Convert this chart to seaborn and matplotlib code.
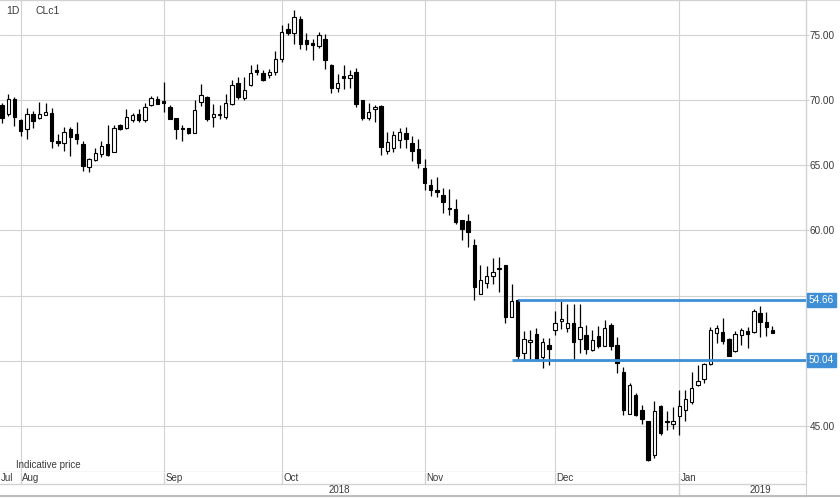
import numpy as np
import pandas as pd
import matplotlib
matplotlib.use('Agg')
import matplotlib.pyplot as plt
from matplotlib.lines import Line2D
import seaborn as sns

# daily OHLC, CLc1, 27 Jul 2018 - 23 Jan 2019
opens = [69.62, 68.92, 70.08, 68.46, 67.77, 68.97, 68.62, 68.87, 69.05, 66.85,
         66.74, 67.77, 67.38, 66.62, 64.87, 65.41, 65.90, 66.62, 66.05, 68.10,
         67.90, 68.49, 68.92, 68.49, 69.62, 70.08, 69.92, 69.51, 68.62, 67.87,
         67.85, 67.51, 69.90, 70.26, 68.74, 68.87, 68.74, 69.69, 71.36, 70.18,
         71.15, 72.33, 72.08, 71.92, 72.18, 73.15, 75.46, 75.15, 76.23, 74.67,
         74.41, 74.18, 74.69, 72.69, 70.95, 71.85, 71.72, 72.15, 70.00, 68.62,
         69.36, 69.56, 66.10, 66.36, 66.92, 67.51, 66.69, 66.28, 64.82, 63.46,
         63.08, 62.69, 61.69, 61.62, 60.79, 60.72, 58.85, 55.15, 55.97, 56.49,
         57.00, 57.38, 53.33, 54.64, 50.59, 51.46, 52.08, 50.28, 51.23, 52.38,
         53.05, 52.51, 52.90, 51.67, 51.95, 50.79, 51.87, 51.15, 52.77, 51.21,
         49.13, 45.92, 47.38, 46.23, 45.38, 42.77, 46.49, 45.36, 45.13, 45.72,
         46.23, 46.79, 48.15, 48.59, 49.77, 52.13, 52.21, 51.67, 50.72, 51.95,
         52.31, 52.18, 53.67, 52.95, 52.38]
highs = [69.77, 70.46, 70.26, 68.54, 69.41, 69.18, 69.90, 69.82, 69.44, 67.38,
         67.95, 67.95, 68.36, 66.87, 65.54, 66.36, 66.87, 68.08, 68.10, 68.21,
         69.36, 69.05, 69.31, 69.77, 70.33, 70.33, 71.41, 69.62, 68.62, 68.08,
         67.90, 70.03, 71.28, 70.33, 69.74, 69.62, 70.46, 71.54, 71.82, 71.82,
         72.74, 72.77, 72.33, 72.38, 73.79, 75.77, 75.92, 76.92, 76.49, 75.21,
         74.69, 75.28, 75.08, 72.77, 72.00, 72.69, 72.33, 72.46, 70.00, 69.77,
         69.64, 69.67, 67.56, 67.62, 67.85, 67.95, 67.26, 67.00, 65.46, 63.92,
         64.13, 63.28, 63.15, 62.38, 60.79, 61.23, 59.31, 57.38, 57.26, 57.90,
         57.97, 57.38, 55.85, 54.74, 52.26, 52.38, 52.51, 51.74, 51.74, 53.79,
         54.56, 54.38, 54.36, 54.31, 52.72, 52.38, 52.64, 53.15, 52.90, 51.82,
         49.51, 48.28, 47.51, 46.62, 45.38, 46.87, 46.62, 46.10, 46.44, 47.77,
         47.77, 49.13, 49.69, 49.82, 52.59, 52.77, 53.28, 51.74, 52.26, 52.51,
         52.56, 53.97, 54.23, 53.72, 52.64]
lows = [68.28, 68.79, 68.03, 67.26, 67.00, 67.90, 68.59, 68.87, 66.36, 66.49,
        66.10, 65.72, 66.62, 64.56, 64.49, 65.33, 65.67, 65.72, 66.03, 67.72,
        67.82, 68.33, 68.33, 68.33, 69.56, 69.69, 69.10, 68.54, 67.05, 66.87,
        67.41, 67.51, 69.56, 68.41, 67.97, 68.59, 68.59, 69.62, 70.08, 70.03,
        71.10, 71.92, 71.49, 71.74, 71.92, 72.97, 75.00, 74.31, 73.92, 73.87,
        73.10, 74.03, 72.44, 70.54, 70.64, 70.85, 70.97, 69.51, 68.49, 68.49,
        68.33, 65.82, 65.90, 66.03, 66.31, 66.36, 65.33, 64.82, 63.10, 62.64,
        62.59, 61.36, 61.18, 60.46, 59.26, 58.74, 54.69, 55.08, 55.56, 55.85,
        55.26, 52.85, 53.33, 50.08, 50.08, 50.08, 50.08, 49.44, 49.67, 52.00,
        52.44, 52.18, 50.08, 50.59, 50.54, 50.72, 50.97, 51.10, 50.85, 49.05,
        45.85, 45.92, 45.72, 45.15, 42.31, 42.51, 44.31, 44.69, 44.74, 44.31,
        45.33, 46.69, 48.08, 48.28, 49.69, 51.36, 51.31, 50.33, 50.64, 51.23,
        50.97, 52.13, 51.82, 51.87, 52.13]
closes = [68.67, 70.13, 68.74, 67.64, 68.97, 68.41, 68.97, 69.13, 66.87, 66.69,
          67.59, 67.21, 67.00, 64.95, 65.46, 65.92, 66.49, 65.79, 67.85, 67.77,
          68.69, 68.87, 68.49, 69.51, 70.18, 69.74, 69.82, 68.59, 67.77, 67.77,
          67.46, 69.23, 70.38, 68.59, 68.97, 68.92, 69.82, 71.15, 70.28, 70.77,
          72.08, 72.18, 71.56, 72.18, 73.21, 75.28, 75.15, 76.44, 74.31, 74.36,
          74.28, 75.00, 73.10, 70.95, 71.36, 71.72, 71.92, 69.69, 68.67, 69.13,
          69.41, 66.41, 66.82, 67.31, 67.59, 67.05, 66.10, 65.21, 63.67, 63.10,
          62.95, 62.18, 61.64, 60.64, 60.08, 59.90, 55.67, 56.23, 56.49, 56.82,
          57.15, 53.33, 54.56, 50.33, 51.62, 51.51, 50.15, 51.41, 50.90, 52.90,
          53.21, 52.85, 51.44, 52.56, 50.92, 51.56, 51.10, 52.51, 51.15, 49.82,
          46.23, 48.10, 45.85, 45.51, 42.38, 46.13, 44.44, 45.26, 45.38, 46.49,
          47.05, 47.90, 48.46, 49.77, 52.33, 52.51, 51.49, 50.38, 52.08, 52.33,
          52.05, 53.79, 52.97, 52.59, 52.13]

holidays = ['2018-09-03', '2018-11-22', '2018-12-25', '2019-01-01']
dates = pd.bdate_range('2018-07-27', '2019-01-23').drop(pd.to_datetime(holidays))

price_ticks = [45, 50, 55, 60, 65, 70, 75]
levels = [54.66, 50.04]
level_start = ['2018-11-23', '2018-11-21']

df = pd.DataFrame({'date': dates, 'open': opens, 'high': highs,
                   'low': lows, 'close': closes})
df['i'] = np.arange(len(df))
df['up'] = df['close'] >= df['open']

sns.set_style('white')
plt.rcParams['font.family'] = ['Liberation Sans', 'DejaVu Sans']

W, H = 840, 498
fig = plt.figure(figsize=(W / 100, H / 100), dpi=100)
plot_bottom = 471.7
ax = fig.add_axes([0, 1 - plot_bottom / H, 805.7 / W, plot_bottom / H])

grid_c = '#d2d2d2'
text_c = '#3a3a3a'
blue = '#3f8fd6'

# month starts from the trading days
month_first = df.groupby(df['date'].dt.to_period('M'))['i'].min()
month_idx = month_first.values

xmin, xmax = -0.33, 129.35
ax.set_xlim(xmin, xmax)
ax.set_ylim(41.46, 77.71)

ax.set_xticks(month_idx[1:])
ax.set_xticklabels([])
ax.set_yticks(price_ticks)
ax.yaxis.tick_right()


def price_fmt(v, pos):
    # labels sitting under the level badges are hidden, as on the original
    if any(abs(v - lvl) < 0.8 for lvl in levels):
        return ''
    return f'{v:.2f}'


ax.yaxis.set_major_formatter(matplotlib.ticker.FuncFormatter(price_fmt))
ax.tick_params(axis='y', length=2, width=0.8, color=grid_c, pad=1,
               labelsize=7.2, labelcolor=text_c)
ax.tick_params(axis='x', length=0)
ax.grid(True, color=grid_c, lw=0.8)
ax.set_axisbelow(True)
ax.spines['left'].set_visible(False)
for s in ['top', 'right', 'bottom']:
    ax.spines[s].set_color(grid_c)
    ax.spines[s].set_linewidth(1)

# candles
ax.vlines(df['i'], df['low'], df['high'], color='black', lw=0.9, zorder=3)
body_lo = df[['open', 'close']].min(axis=1)
body_h = (df['close'] - df['open']).abs().clip(lower=0.1)
ax.bar(df['i'], body_h, bottom=body_lo, width=0.55,
       color=np.where(df['up'], 'white', 'black'), edgecolor='black',
       linewidth=0.8, zorder=4)

# support / resistance
for lvl, start in zip(levels, level_start):
    x0 = df.loc[df['date'] == pd.Timestamp(start), 'i'].iloc[0]
    ax.hlines(lvl, x0, xmax, color=blue, lw=2, zorder=5)
    ax.annotate(f'{lvl:.2f}', xy=(1, lvl), xycoords=('axes fraction', 'data'),
                xytext=(3, 0), textcoords='offset pixels', ha='left', va='center',
                fontsize=7.2, color='white', zorder=10, annotation_clip=False,
                bbox=dict(boxstyle='square,pad=0.22', fc=blue, ec=blue))

fig.text(6 / W, 1 - 11 / H, '1D', fontsize=7.5, color=text_c, va='center')
fig.text(35 / W, 1 - 11 / H, 'CLc1', fontsize=7.5, color=text_c, va='center')
fig.text(16.5 / W, 1 - 465 / H, 'Indicative price', fontsize=7,
         color=text_c, va='center')

# date band under the chart
band_top, band_bot = plot_bottom, 496
ax2 = fig.add_axes([0, 1 - band_bot / H, 805.7 / W, (band_bot - band_top) / H])
ax2.set_xlim(xmin, xmax)
ax2.set_ylim(0, 1)
ax2.set_xticks([])
ax2.set_yticks([])
for s in ['bottom', 'right']:
    ax2.spines[s].set_color(grid_c)
ax2.spines['left'].set_visible(False)
ax2.spines['top'].set_visible(False)
mid = (band_bot - 484.3) / (band_bot - band_top)
ax2.axhline(mid, color=grid_c, lw=1)

month_names = [p.strftime('%b') for p in month_first.index]
for k, (name, idx) in enumerate(zip(month_names, month_idx)):
    if k == 0:
        ax2.text(xmin + 0.2, 0.74, name, fontsize=7, color=text_c, va='center')
        continue
    bot = 0 if name == 'Jan' else mid
    ax2.vlines(idx, bot, 1, color=grid_c, lw=1)
    ax2.text(idx + 0.25, 0.74, name, fontsize=7, color=text_c, va='center')

jan_idx = month_idx[-1]
ax2.text((xmin + jan_idx) / 2, 0.25, '2018', fontsize=7, color=text_c,
         ha='center', va='center')
fig.text(760 / W, 1 - 490 / H, '2019', fontsize=7, color=text_c,
         ha='center', va='center')

fig.add_artist(Line2D([0, 1], [1 - 0.5 / H, 1 - 0.5 / H], color=grid_c, lw=1.2))
fig.add_artist(Line2D([0, 1], [1 - band_bot / H, 1 - band_bot / H], color='#bdbdbd', lw=1.5))

fig.savefig('out.png', dpi=100)
